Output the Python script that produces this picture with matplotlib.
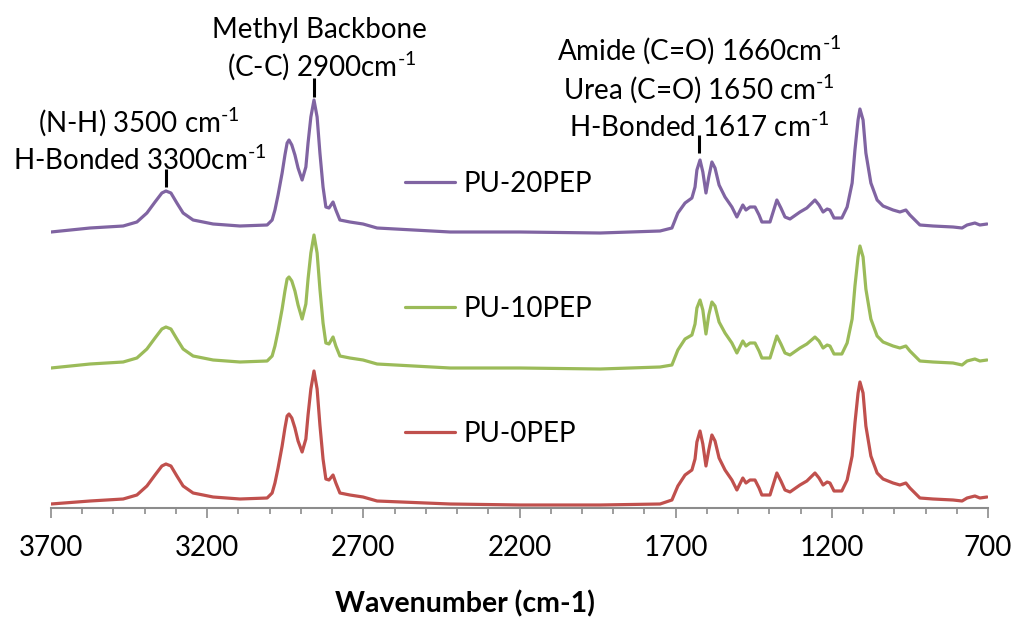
import numpy as np
import matplotlib
matplotlib.use("Agg")
import matplotlib.pyplot as plt

plt.rcParams["font.family"] = ["Lato", "DejaVu Sans"]
plt.rcParams["mathtext.fontset"] = "custom"
plt.rcParams["mathtext.rm"] = "Lato"
plt.rcParams["mathtext.it"] = "Lato:italic"
plt.rcParams["mathtext.bf"] = "Lato:bold"
plt.rcParams["mathtext.default"] = "regular"

wavenumber = [
    3700, 3575, 3469, 3425, 3393, 3367, 3345, 3332, 3316, 3297, 3277, 3245, 3181, 3095,
    3008, 2992, 2983, 2973, 2960, 2951, 2944, 2938, 2929, 2919, 2909, 2896, 2884, 2877,
    2868, 2858, 2848, 2839, 2829, 2820, 2810, 2797, 2788, 2775, 2743, 2701, 2656,
    2422, 2198, 1942, 1750,
    1712, 1693, 1670, 1648, 1638, 1632, 1622, 1613, 1603, 1594, 1584, 1574, 1561, 1542,
    1520, 1504, 1485, 1475, 1462, 1446, 1433, 1424, 1398, 1388, 1376, 1363, 1350, 1334,
    1302, 1280, 1254, 1241, 1228, 1215, 1206, 1193, 1168, 1151, 1135, 1126, 1116, 1110,
    1100, 1091, 1075, 1055, 1036, 1004, 982, 963, 950, 918, 876, 812, 783, 767, 742, 726,
    703,
]

pu_20pep = [
    2.76, 2.80, 2.82, 2.86, 2.95, 3.06, 3.15, 3.17, 3.15, 3.05, 2.95, 2.88, 2.84, 2.82,
    2.83, 2.88, 2.98, 3.13, 3.35, 3.53, 3.65, 3.68, 3.63, 3.53, 3.40, 3.28, 3.41, 3.65,
    3.91, 4.08, 3.91, 3.55, 3.21, 3.01, 3.00, 3.06, 2.98, 2.88, 2.86, 2.84, 2.80,
    2.76, 2.76, 2.75, 2.77,
    2.80, 2.95, 3.05, 3.10, 3.21, 3.38, 3.48, 3.36, 3.15, 3.31, 3.46, 3.40, 3.23, 3.11,
    3.01, 2.91, 3.03, 2.98, 3.01, 3.01, 2.93, 2.86, 2.86, 2.96, 3.08, 3.00, 2.91, 2.89,
    2.96, 3.00, 3.08, 3.03, 2.96, 2.99, 2.98, 2.90, 2.90, 3.01, 3.25, 3.58, 3.88, 3.99,
    3.88, 3.55, 3.25, 3.08, 3.02, 2.98, 2.96, 2.98, 2.93, 2.83, 2.82, 2.81, 2.80, 2.83,
    2.85, 2.83, 2.84,
]

pu_10pep = [
    1.40, 1.44, 1.46, 1.50, 1.59, 1.70, 1.79, 1.81, 1.79, 1.69, 1.59, 1.52, 1.48, 1.46,
    1.47, 1.52, 1.62, 1.77, 1.99, 2.17, 2.29, 2.31, 2.27, 2.17, 2.03, 1.89, 2.04, 2.29,
    2.55, 2.73, 2.55, 2.19, 1.85, 1.65, 1.64, 1.71, 1.62, 1.52, 1.50, 1.48, 1.44,
    1.40, 1.40, 1.39, 1.41,
    1.43, 1.58, 1.69, 1.73, 1.84, 2.00, 2.08, 1.98, 1.74, 1.93, 2.06, 2.02, 1.86, 1.75,
    1.65, 1.55, 1.67, 1.62, 1.65, 1.65, 1.57, 1.50, 1.50, 1.60, 1.72, 1.64, 1.55, 1.53,
    1.60, 1.64, 1.71, 1.67, 1.60, 1.63, 1.62, 1.54, 1.54, 1.65, 1.89, 2.22, 2.51, 2.62,
    2.51, 2.19, 1.89, 1.72, 1.66, 1.62, 1.60, 1.62, 1.57, 1.47, 1.46, 1.45, 1.43, 1.47,
    1.49, 1.47, 1.48,
]

pu_0pep = [
    0.04, 0.07, 0.09, 0.13, 0.22, 0.33, 0.42, 0.44, 0.42, 0.32, 0.22, 0.15, 0.11, 0.09,
    0.10, 0.15, 0.25, 0.40, 0.62, 0.80, 0.92, 0.94, 0.90, 0.80, 0.67, 0.56, 0.69, 0.93,
    1.19, 1.37, 1.19, 0.83, 0.49, 0.29, 0.28, 0.33, 0.25, 0.15, 0.13, 0.11, 0.07,
    0.04, 0.03, 0.03, 0.04,
    0.08, 0.22, 0.33, 0.38, 0.49, 0.66, 0.77, 0.64, 0.42, 0.58, 0.73, 0.67, 0.50, 0.38,
    0.28, 0.18, 0.30, 0.25, 0.28, 0.28, 0.20, 0.13, 0.13, 0.23, 0.35, 0.27, 0.18, 0.16,
    0.23, 0.27, 0.35, 0.30, 0.23, 0.26, 0.25, 0.17, 0.17, 0.28, 0.52, 0.85, 1.15, 1.26,
    1.15, 0.82, 0.52, 0.35, 0.29, 0.25, 0.23, 0.25, 0.20, 0.10, 0.09, 0.08, 0.07, 0.10,
    0.12, 0.10, 0.11,
]

series_labels = ["PU-20PEP", "PU-10PEP", "PU-0PEP"]
series_colors = ["#8064A2", "#9BBB59", "#C0504D"]

peak_marks = [3332, 2858, 1625]
peak_mark_lo = [3.21, 4.11, 3.55]
peak_mark_hi = [3.39, 4.30, 3.73]

fig = plt.figure(figsize=(10.13, 6.21), dpi=100)
ax = fig.add_axes([51 / 1013, 113 / 621, 937 / 1013, 508 / 621])

for y, label, color in zip([pu_20pep, pu_10pep, pu_0pep], series_labels, series_colors):
    ax.plot(wavenumber, y, color=color, lw=2.3, label=label,
            solid_joinstyle="round", solid_capstyle="round")

ax.set_xlim(3700, 700)
ax.set_ylim(0, 5.08)
ax.set_xticks(np.arange(3700, 699, -500))
ax.set_xticks(np.arange(3700, 699, -100), minor=True)
ax.set_yticks([])
for s in ["top", "right", "left"]:
    ax.spines[s].set_visible(False)
ax.spines["bottom"].set_color("#8c8c8c")
ax.spines["bottom"].set_linewidth(1.5)
ax.tick_params(axis="x", which="major", length=7.5, width=1.2, color="#8c8c8c",
               labelsize=20, pad=12)
ax.tick_params(axis="x", which="minor", length=4.5, width=1.2, color="#8c8c8c")
ax.set_xlabel("Wavenumber (cm-1)", fontsize=20.5, fontweight="bold")
ax.xaxis.set_label_coords((465 - 51) / 937, -82 / 508)

ax.vlines(peak_marks, peak_mark_lo, peak_mark_hi, color="black", lw=2.2)

sup = "$^{\\text{-1}}$"
ax.text(3418, 3.86, "(N-H) 3500 cm" + sup, fontsize=20, ha="center", va="center")
ax.text(3415, 3.48, "H-Bonded 3300cm" + sup, fontsize=20, ha="center", va="center")
ax.text(2840, 4.78, "Methyl Backbone", fontsize=20, ha="center", va="center")
ax.text(2835, 4.42, "(C-C) 2900cm" + sup, fontsize=20, ha="center", va="center")
ax.text(1625, 4.58, "Amide (C=O) 1660cm" + sup, fontsize=20, ha="center", va="center")
ax.text(1625, 4.19, "Urea (C=O) 1650 cm" + sup, fontsize=20, ha="center", va="center")
ax.text(1625, 3.81, "H-Bonded 1617 cm" + sup, fontsize=20, ha="center", va="center")

ax.legend(loc="center left", bbox_to_anchor=(405 / 1013, (621 - 309) / 621),
          bbox_transform=fig.transFigure, frameon=False, fontsize=20,
          handlelength=1.8, handletextpad=0.3, labelspacing=3.56,
          borderpad=0, borderaxespad=0)

fig.savefig("out.png", dpi=100)
